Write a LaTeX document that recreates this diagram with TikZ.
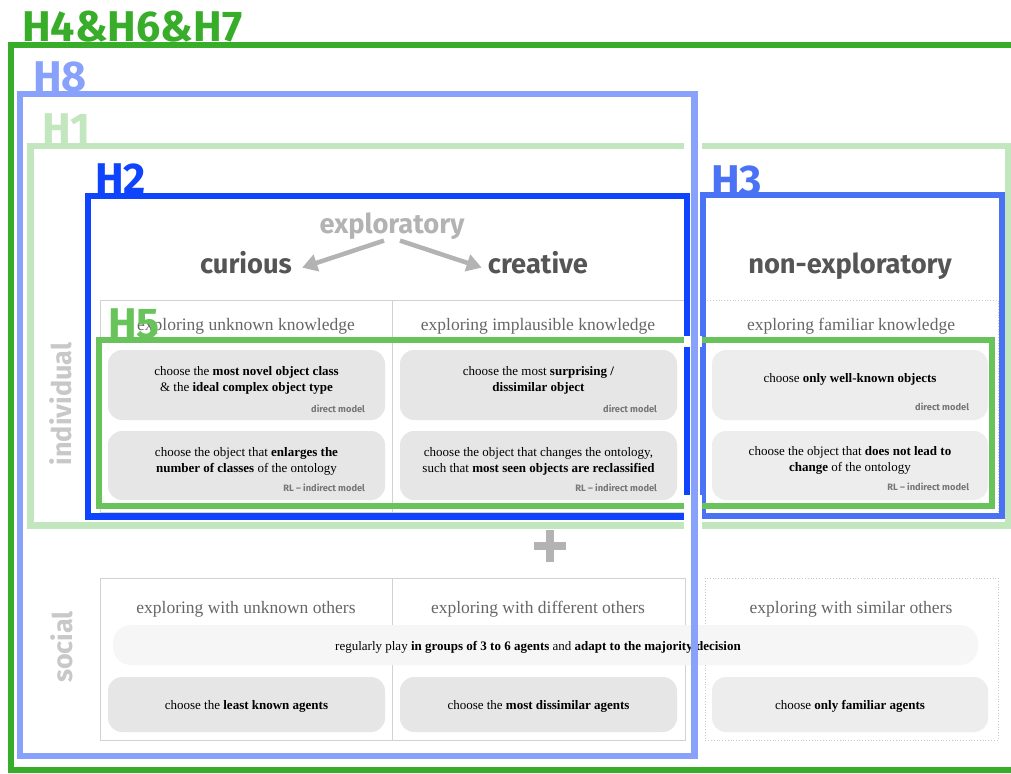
\documentclass[tikz,border=0pt]{standalone}
\usepackage{fontspec}
\setmainfont{Liberation Serif}
\newfontfamily\hfont{Fira Sans}
\usetikzlibrary{arrows.meta}
\definecolor{gOuter}{HTML}{38AD2A}
\definecolor{hEight}{HTML}{88A2FB}
\definecolor{hOne}{HTML}{C2E6BD}
\definecolor{hTwo}{HTML}{0F44FF}
\definecolor{hThree}{HTML}{4A72F5}
\definecolor{hFive}{HTML}{68C35A}
\definecolor{darkgreyt}{HTML}{555555}
\definecolor{midgreyt}{HTML}{666666}
\definecolor{lightgreyt}{HTML}{B3B3B3}
\definecolor{sidegrey}{HTML}{C8C8C8}
\definecolor{boxgrey}{HTML}{E6E6E6}
\definecolor{boxgreyr}{HTML}{EDEDED}
\definecolor{bannergrey}{HTML}{F6F6F6}
\definecolor{linegrey}{HTML}{D2D2D2}
\definecolor{modelgrey}{HTML}{777777}
\begin{document}
\begin{tikzpicture}[x=1pt,y=-1pt,
  hlabel/.style={font=\hfont\bfseries\fontsize{43}{43}\selectfont, anchor=base west, inner sep=0pt},
  hrect/.style={line width=6.5pt},
  head/.style={font=\hfont\bfseries\fontsize{27.3}{27.3}\selectfont, text=darkgreyt, inner sep=0pt},
  colhead/.style={font=\fontsize{17.5}{19}\selectfont, text=midgreyt, inner sep=0pt},
  choice/.style={rounded corners=14pt, fill=boxgrey, inner sep=0pt},
  choicer/.style={choice, fill=boxgreyr},
  choicetext/.style={font=\fontsize{13}{16}\selectfont, align=center, inner sep=0pt},
  model/.style={font=\hfont\bfseries\fontsize{9.3}{10}\selectfont, text=modelgrey, anchor=base east, inner sep=0pt},
  side/.style={font=\hfont\bfseries\fontsize{27}{27}\selectfont, text=sidegrey, rotate=90, inner sep=0pt},
  tabline/.style={draw=linegrey, line width=0.8pt},
  tabdot/.style={draw=sidegrey, line width=0.8pt, dotted},
  arr/.style={draw=lightgreyt, line width=4.5pt, -{Triangle[length=15pt,width=17pt]}, shorten >=-2pt}
]
\useasboundingbox (0,0) rectangle (1011,773);
\fill[white] (0,0) rectangle (1011,773);

% ---------- individual table ----------
\draw[tabline] (100,300) rectangle (685,512);
\draw[tabline] (392,300) -- (392,512);
\draw[tabdot] (705,300) rectangle (998,514);

\node[colhead] (ch1) at (246,326.5) {exploring unknown knowledge};
\node[colhead] (ch2) at (538,326.5) {exploring implausible knowledge};
\node[colhead] (ch3) at (851,326.5) {exploring familiar knowledge};

% headings
\node[head, text=lightgreyt] (expl) at (392,226) {exploratory};
\node[head] (cur) at (246,263) {curious};
\node[head] (cre) at (538,263) {creative};
\node[head] (nonexp) at (850,266) {non-exploratory};
\draw[arr] ([xshift=-8pt,yshift=-1pt]expl.south) -- ([xshift=12pt,yshift=-4pt]cur.east);
\draw[arr] ([xshift=8pt,yshift=-1pt]expl.south) -- ([xshift=-8pt,yshift=-4pt]cre.west);

% boxes row 1
\node[choice, minimum width=277pt, minimum height=70pt] (b11) at (246.5,385) {};
\node[choice, minimum width=277pt, minimum height=70pt] (b12) at (538.5,385) {};
\node[choicer, minimum width=276pt, minimum height=70pt] (b13) at (850,385) {};
\node[choicetext] (t11) at ([yshift=5pt]b11.center) {choose the \textbf{most novel object class}\\ \& the \textbf{ideal complex object type}};
\node[choicetext] (t12) at ([yshift=5pt]b12.center) {choose the most \textbf{surprising /}\\ \textbf{dissimilar object}};
\node[choicetext] (t13) at ([yshift=6pt]b13.center) {choose \textbf{only well-known objects}};
\node[model] (m11) at ([xshift=-20pt,yshift=8pt]b11.south east) {direct model};
\node[model] (m12) at ([xshift=-20pt,yshift=8pt]b12.south east) {direct model};
\node[model] (m13) at ([xshift=-19pt,yshift=10pt]b13.south east) {direct model};

% boxes row 2
\node[choice, minimum width=277pt, minimum height=69pt] (b21) at (246.5,465.5) {};
\node[choice, minimum width=277pt, minimum height=69pt] (b22) at (538.5,465.5) {};
\node[choicer, minimum width=276pt, minimum height=69pt] (b23) at (850,465.5) {};
\node[choicetext] (t21) at ([yshift=4.5pt]b21.center) {choose the object that \textbf{enlarges the}\\ \textbf{number of classes} of the ontology};
\node[choicetext] (t22) at ([yshift=4.5pt]b22.center) {choose the object that changes the ontology,\\ such that \textbf{most seen objects are reclassified}};
\node[choicetext] (t23) at ([yshift=5.5pt]b23.center) {choose the object that \textbf{does not lead to}\\ \textbf{change} of the ontology};
\node[model] (m21) at ([xshift=-20pt,yshift=9pt]b21.south east) {RL \textendash{} indirect model};
\node[model] (m22) at ([xshift=-20pt,yshift=9pt]b22.south east) {RL \textendash{} indirect model};
\node[model] (m23) at ([xshift=-19pt,yshift=10pt]b23.south east) {RL \textendash{} indirect model};

\node[side] (indiv) at (61,404) {individual};

% plus
\draw[line width=8pt, lightgreyt] (534,546) -- (566,546);
\draw[line width=8pt, lightgreyt] (550,530) -- (550,562);

% ---------- social table ----------
\draw[tabline] (100,578) rectangle (685,740);
\draw[tabline] (392,578) -- (392,740);
\draw[tabdot] (705,578) rectangle (998,740);
\node[colhead] (sh1) at (246,609.5) {exploring with unknown others};
\node[colhead] (sh2) at (538,609.5) {exploring with different others};
\node[colhead] (sh3) at (851,609.5) {exploring with similar others};
\node[choice, fill=bannergrey, rounded corners=18pt, minimum width=865pt, minimum height=40pt] (banner) at (545.5,645) {};
\node[choicetext] (bt) at (538,647.5) {regularly play \textbf{in groups of 3 to 6 agents} and \textbf{adapt to the majority decision}};
\node[choice, minimum width=277pt, minimum height=55pt] (s1) at (246.5,704.5) {};
\node[choice, minimum width=277pt, minimum height=55pt] (s2) at (538.5,704.5) {};
\node[choicer, minimum width=276pt, minimum height=55pt] (s3) at (850,704.5) {};
\node[choicetext] (st1) at ([yshift=-2pt]s1.center) {choose the \textbf{least known agents}};
\node[choicetext] (st2) at ([yshift=-2pt]s2.center) {choose the \textbf{most dissimilar agents}};
\node[choicetext] (st3) at ([yshift=-2pt]s3.center) {choose \textbf{only familiar agents}};
\node[side] (soc) at (62,647) {social};

% ---------- hypothesis frames ----------
\draw[hrect, hOne] (30.5,146) rectangle (1008,525.5);
\draw[hrect, hTwo] (88,196) rectangle (687,516.5);
\draw[hrect, hThree] (703,195) rectangle (1002,516);
\draw[hrect, hFive, line width=6pt] (99,340) rectangle (992,506);
\fill[white] (684,141) rectangle (702,151);
\fill[white] (684,336) rectangle (702,347);
\fill[white] (684,495) rectangle (702,531);
\draw[hrect, hEight] (20,94) rectangle (694.5,756);
\draw[hrect, gOuter, line width=6pt] (10.5,45) rectangle (1020,770);

\node[hlabel, text=gOuter] (l467) at (22,42) {H4\&H6\&H7};
\node[hlabel, text=hEight] (l8) at (33,92) {H8};
\node[hlabel, text=hOne] (l1) at (42,143) {H1};
\node[hlabel, text=hTwo] (l2) at (95,193) {H2};
\node[hlabel, text=hThree] (l3) at (711,195) {H3};
\node[hlabel, text=hFive] (l5) at (108,338) {H5};
\end{tikzpicture}
\end{document}
